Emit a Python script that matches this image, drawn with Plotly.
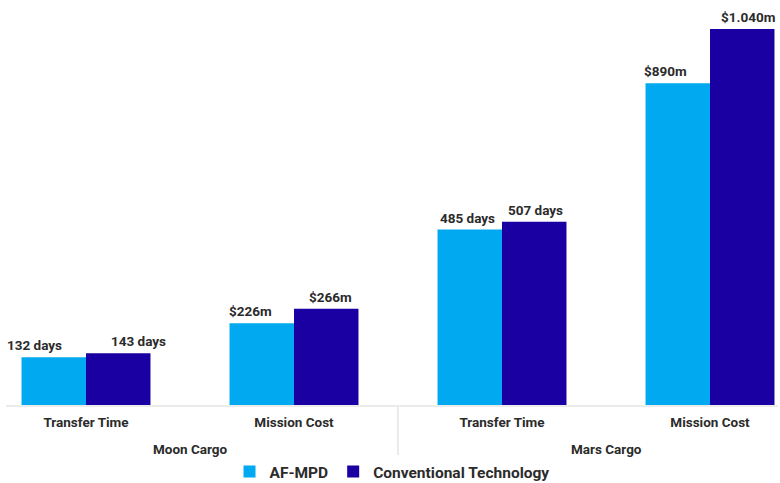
import plotly.graph_objects as go

# Mission comparison: AF-MPD vs conventional propulsion
destinations = ["Moon Cargo", "Moon Cargo", "Mars Cargo", "Mars Cargo"]
metrics = ["Transfer Time", "Mission Cost", "Transfer Time", "Mission Cost"]
units = ["days", "musd", "days", "musd"]

af_mpd = [132, 226, 485, 890]
conventional = [143, 266, 507, 1040]

series_names = ["AF-MPD", "Conventional Technology"]
colors = ["#00A9F0", "#1A00A2"]

# horizontal nudges (px) for the value labels of each series
label_shift = [[-19, -11, -2, -12], [20, 4, 1, 6]]

FONT = "Roboto"
TEXT = "#2b2b2b"
LINE = "#ebebeb"
W, H = 780, 483


def fmt(v, unit):
    if unit == "days":
        return f"{v} days"
    return "$" + f"{v:,}".replace(",", ".") + "m"


idx = list(range(len(metrics)))

fig = go.Figure()
for name, vals, col in zip(series_names, [af_mpd, conventional], colors):
    fig.add_trace(go.Bar(
        name=name,
        x=idx,
        y=vals,
        marker=dict(color=col, line=dict(width=0)),
        hoverinfo="skip",
    ))

bargap = 0.38
half = (1 - bargap) / 2
for s, vals in enumerate([af_mpd, conventional]):
    for i, v in enumerate(vals):
        xc = i - half / 2 if s == 0 else i + half / 2
        fig.add_annotation(
            x=xc, y=v, xref="x", yref="y",
            text=fmt(v, units[i]),
            showarrow=False, yanchor="bottom", yshift=2,
            xshift=label_shift[s][i],
            font=dict(family=FONT, size=13.5, color=TEXT, weight="bold"),
        )

# group labels under the metric ticks, with a divider between groups
groups = []
for i, d in enumerate(destinations):
    if not groups or groups[-1][0] != d:
        groups.append([d, [i]])
    else:
        groups[-1][1].append(i)

plot_h = 405
for g, members in groups:
    fig.add_annotation(
        x=sum(members) / len(members), y=0,
        xref="x", yref="paper", text=g, showarrow=False,
        yanchor="middle", yshift=-44,
        font=dict(family=FONT, size=13.5, color=TEXT, weight="bold"),
    )
for (_, a), (_, b) in zip(groups[:-1], groups[1:]):
    xb = (a[-1] + b[0]) / 2
    fig.add_shape(
        type="line", xref="x", yref="paper",
        x0=xb, x1=xb, y0=0, y1=-52 / plot_h,
        line=dict(color=LINE, width=2),
    )

px_per_cat = 208
left, right = 6, 2
plot_w = W - left - right
x0 = -(86 - left) / px_per_cat
x1 = x0 + plot_w / px_per_cat

fig.update_layout(
    width=W, height=H,
    margin=dict(l=left, r=right, t=0, b=H - plot_h),
    paper_bgcolor="white", plot_bgcolor="white",
    barmode="group", bargap=bargap, bargroupgap=0,
    font=dict(family=FONT, color=TEXT),
    showlegend=True,
    legend=dict(
        orientation="h", xref="container", yref="container",
        x=392 / W, xanchor="center",
        y=1 - 472 / H, yanchor="middle",
        font=dict(family=FONT, size=15.5, color=TEXT, weight="bold"),
        itemwidth=30, traceorder="normal",
    ),
    xaxis=dict(
        range=[x0, x1], automargin=False,
        tickmode="array", tickvals=idx, ticktext=metrics,
        showline=True, linecolor=LINE, linewidth=2,
        showgrid=False, zeroline=False, ticks="",
        ticklabelstandoff=4,
        tickfont=dict(family=FONT, size=13.5, color=TEXT, weight="bold"),
    ),
    yaxis=dict(
        range=[0, 1120], visible=False, showgrid=False, zeroline=False,
    ),
)

fig.write_html("out.html")
